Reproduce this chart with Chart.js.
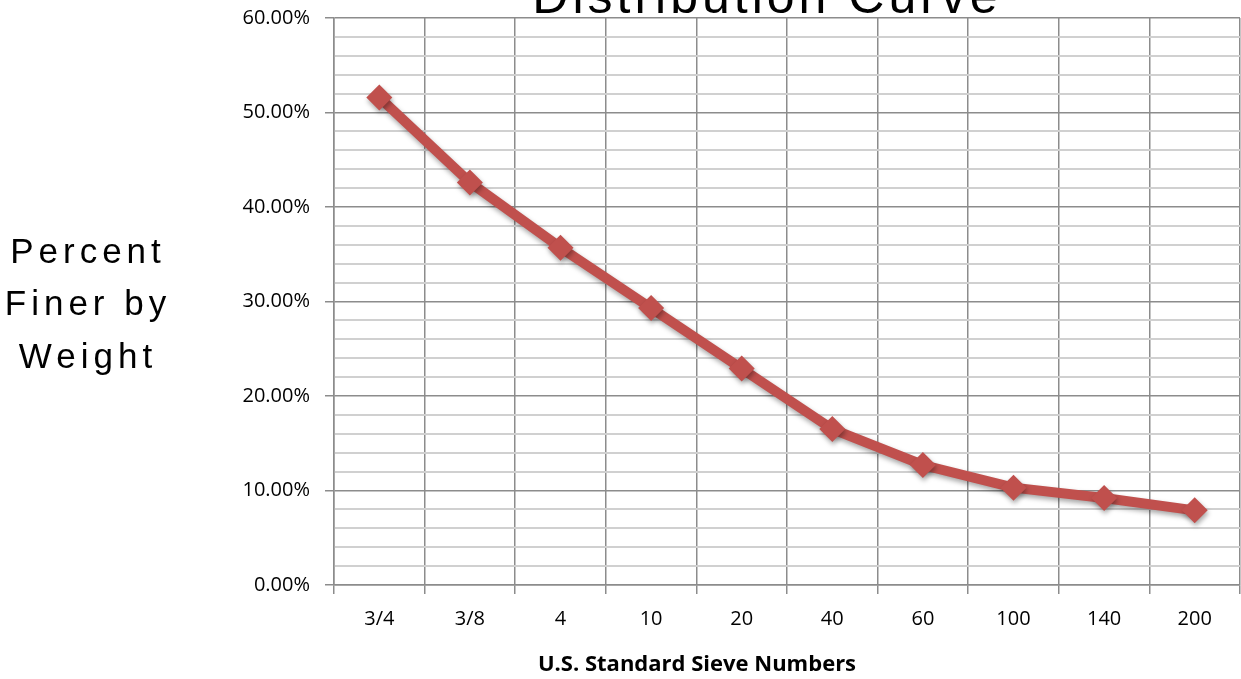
<!DOCTYPE html>
<html>
<head>
<meta charset="utf-8">
<script src="https://cdn.jsdelivr.net/npm/chart.js@4/dist/chart.umd.min.js"></script>
<style>
  html, body { margin: 0; padding: 0; background: #fff; overflow: hidden; }
  #wrap { width: 1241px; height: 679px; position: relative; }
  #sieve { display: block; }
</style>
</head>
<body>
<div id="wrap"><canvas id="sieve"></canvas></div>
<script>
// sieve numbers along the bottom
const sieveLabels = ['3/4', '3/8', '4', '10', '20', '40', '60', '100', '140', '200'];
// percent finer by weight
const percentFiner = [51.6, 42.6, 35.7, 29.3, 22.9, 16.5, 12.7, 10.3, 9.2, 7.9];

const chartTitle = 'Distribution Curve';
const yTitleLines = ['Percent', 'Finer by', 'Weight'];
const xTitle = 'U.S. Standard Sieve Numbers';

// draws the titles where Excel put them
const titlesPlugin = {
    id: 'titles',
    afterDraw(chart) {
        const ctx = chart.ctx;
        ctx.save();
        ctx.fillStyle = '#000';
        ctx.textAlign = 'center';
        ctx.textBaseline = 'alphabetic';

        // main title, mostly cut off at the top
        ctx.font = '50px "Liberation Sans"';
        ctx.letterSpacing = '4px';
        ctx.fillText(chartTitle, 767, 13);

        // y title, three lines
        ctx.font = '35px "Liberation Sans"';
        ctx.letterSpacing = '5px';
        const baselines = [263, 315, 368];
        yTitleLines.forEach((line, i) => {
            ctx.fillText(line, 88, baselines[i]);
        });

        ctx.letterSpacing = '0px';
        ctx.font = 'bold 22px "Open Sans"';
        ctx.fillText(xTitle, 697, 671);
        ctx.restore();
    }
};

// soft shadow under the line and markers
const shadowPlugin = {
    id: 'shadow',
    beforeDatasetsDraw(chart) {
        const ctx = chart.ctx;
        ctx.save();
        ctx.shadowColor = 'rgba(0,0,0,0.35)';
        ctx.shadowBlur = 5;
        ctx.shadowOffsetX = 1;
        ctx.shadowOffsetY = 3;
    },
    afterDatasetsDraw(chart) {
        chart.ctx.restore();
    }
};

const ctx = document.getElementById('sieve').getContext('2d');
const chart = new Chart(ctx, {
    type: 'line',
    data: {
        labels: sieveLabels,
        datasets: [{
            label: 'Percent Finer',
            data: percentFiner,
            borderColor: '#c0504d',
            backgroundColor: '#c0504d',
            borderWidth: 10,
            pointStyle: 'rectRot',
            pointRadius: 13,
            pointHoverRadius: 13,
            pointBorderWidth: 0,
            tension: 0
        }]
    },
    options: {
        responsive: true,
        maintainAspectRatio: false,
        animation: false,
        layout: {
            autoPadding: false,
            padding: { left: 200, right: 1, top: 18, bottom: 0 }
        },
        plugins: {
            legend: { display: false },
            tooltip: { enabled: false }
        },
        scales: {
            x: {
                offset: true,
                grid: {
                    offset: true,
                    color: '#8c8c8c',
                    lineWidth: 1.5,
                    tickLength: 9,
                    tickColor: '#8c8c8c'
                },
                border: { color: '#8c8c8c', width: 1.5 },
                ticks: {
                    color: '#000',
                    font: { family: 'Open Sans', size: 20 },
                    padding: 13,
                    autoSkip: false,
                    maxRotation: 0
                },
                afterFit(scale) {
                    scale.height = 94;
                    scale.paddingLeft = 0;
                    scale.paddingRight = 0;
                }
            },
            y: {
                min: 0,
                max: 60,
                grid: {
                    color: (c) => (c.tick && c.tick.value % 10 === 0) ? '#8c8c8c' : '#d0d0d0',
                    lineWidth: (c) => (c.tick && c.tick.value % 10 === 0) ? 1.5 : 2,
                    tickLength: 9,
                    tickColor: (c) => (c.tick && c.tick.value % 10 === 0) ? '#8c8c8c' : 'rgba(0,0,0,0)'
                },
                border: { color: '#8c8c8c', width: 1.5 },
                ticks: {
                    stepSize: 2,
                    autoSkip: false,
                    color: '#000',
                    font: { family: 'Open Sans', size: 20 },
                    padding: 15,
                    callback: (v) => v % 10 === 0 ? v.toFixed(2) + '%' : ''
                },
                afterFit(scale) {
                    scale.width = 134;
                    scale.paddingTop = 0;
                    scale.paddingBottom = 0;
                }
            }
        }
    },
    plugins: [titlesPlugin, shadowPlugin]
});
</script>
</body>
</html>
